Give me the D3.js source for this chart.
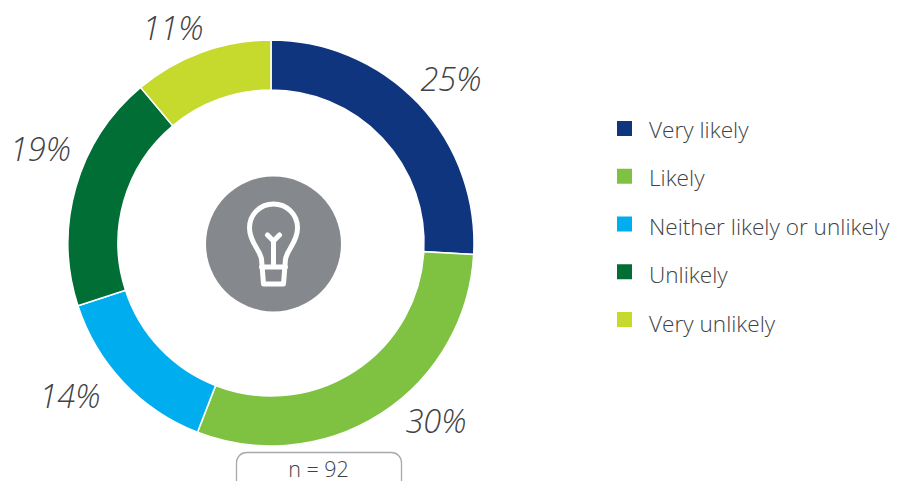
<!DOCTYPE html>
<html><head><meta charset="utf-8">
<style>html,body{margin:0;padding:0;background:#fff}svg{display:block}text{font-family:"Open Sans",sans-serif;font-weight:300;fill:#3f4346}</style>
<script src="https://cdn.jsdelivr.net/npm/d3@7"></script></head><body>
<script>
const categories=["Very likely","Likely","Neither likely or unlikely","Unlikely","Very unlikely"];
const shares=[25.9,30,14.1,18.9,11.1];
const percentLabels=["25%","30%","14%","19%","11%"];
const colors=["#10357f","#7fc241","#00aeef","#006e35","#c6d92d"];
const sampleLabel="n = 92";

const svg=d3.select("body").append("svg").attr("width",897).attr("height",481);
const cx=271,cy=243;
const pie=d3.pie().sort(null).value(d=>d)(shares);
const arc=d3.arc().innerRadius(153).outerRadius(203);
const g=svg.append("g").attr("transform",`translate(${cx},${cy})`);
g.selectAll("path").data(pie).join("path").attr("d",arc)
 .attr("fill",(d,i)=>colors[i]).attr("stroke","#fff").attr("stroke-width",1.5);

const labelPos=[[451,79],[436,421],[70,396],[41,149],[173,28]];
svg.selectAll("text.pct").data(percentLabels).join("text").attr("class","pct")
 .attr("x",(d,i)=>labelPos[i][0]-(i===3?0.5:0)).attr("y",(d,i)=>labelPos[i][1]+11.5)
 .attr("text-anchor","middle").attr("font-size",32.5).attr("font-style","italic").text(d=>d);

// centre icon
const ic=svg.append("g").attr("transform",`translate(${cx+2.5},${cy+1})`);
ic.append("circle").attr("r",67.5).attr("fill","#85888c");
ic.append("path").attr("fill","none").attr("stroke","#fff").attr("stroke-width",5).attr("stroke-linejoin","round").attr("stroke-linecap","round")
 .attr("d","M-12,15 C-14,5 -24,-2 -24,-16 C-24,-30 -13,-40 0,-40 C13,-40 24,-30 24,-16 C24,-2 14,5 12,15 L10,40 L-10,40 Z M-12,23 L12,23");
ic.append("path").attr("fill","none").attr("stroke","#fff").attr("stroke-width",5).attr("stroke-linecap","round").attr("stroke-linejoin","round")
 .attr("d","M0,22 L0,-3 M-6,-9 L0,-3 L6,-9");

// legend
const swatchY=d3.scalePoint().domain(categories).range([121,312]);
const textY=d3.scalePoint().domain(categories).range([137.6,331.6]);
svg.selectAll("rect.sw").data(categories).join("rect").attr("class","sw")
 .attr("x",617).attr("y",d=>swatchY(d)).attr("width",15).attr("height",15).attr("fill",(d,i)=>colors[i]);
svg.selectAll("text.lg").data(categories).join("text").attr("class","lg")
 .attr("x",649).attr("y",d=>textY(d)).attr("font-size",22.6).text(d=>d);

// n box
svg.append("rect").attr("x",236.5).attr("y",452.5).attr("width",165).attr("height",50).attr("rx",10)
 .attr("fill","#fff").attr("stroke","#a7a9ac").attr("stroke-width",1.3);
svg.append("text").attr("x",318.5).attr("y",477).attr("text-anchor","middle").attr("font-size",21.5).text(sampleLabel);
</script></body></html>
